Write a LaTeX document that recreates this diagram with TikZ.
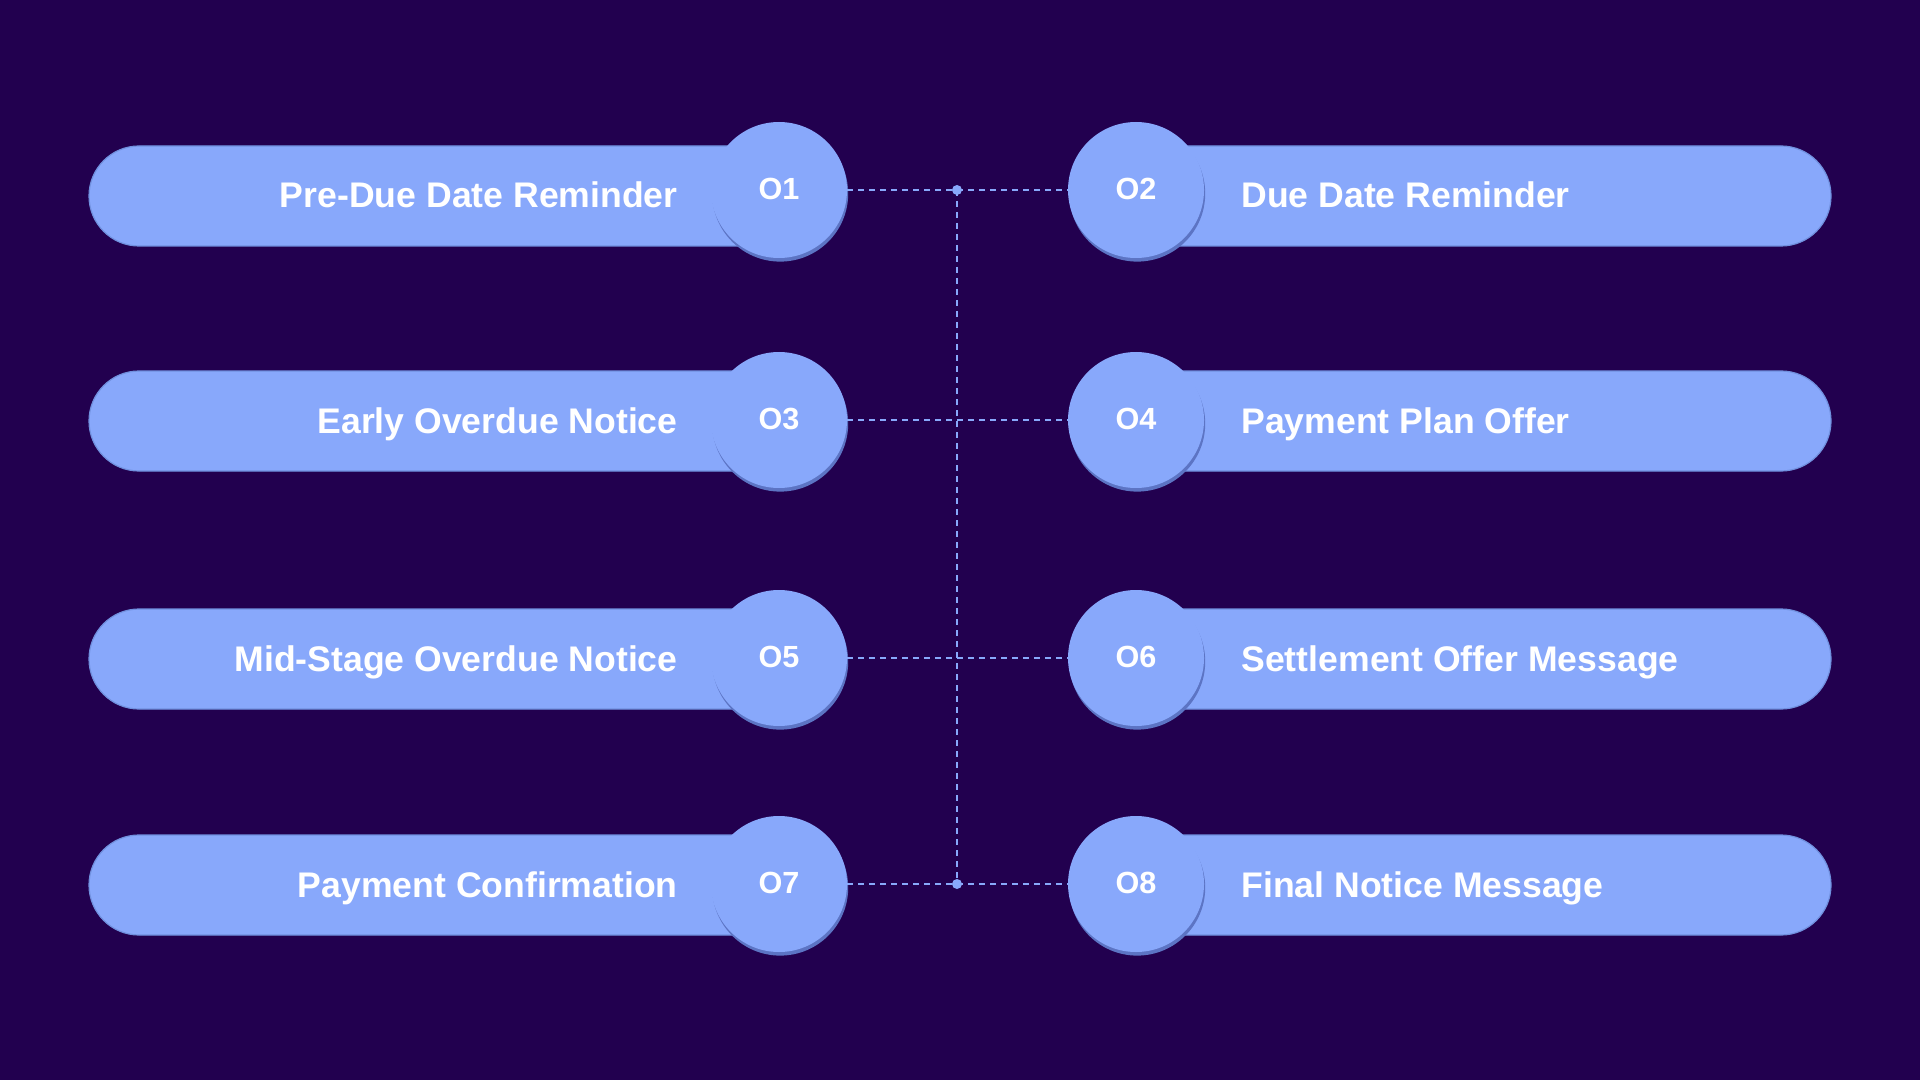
\documentclass[tikz,border=0pt]{standalone}
\usepackage{fontspec}
\setmainfont{Liberation Sans}
\usetikzlibrary{shapes.misc,shadows}
\definecolor{bgc}{HTML}{22004F}
\definecolor{pillc}{HTML}{88A8FB}
\definecolor{edgec}{HTML}{7090DE}
\definecolor{shadc}{HTML}{5C74C4}
\begin{document}
\begin{tikzpicture}[x=0.5pt,y=-0.5pt,
  pillL/.style={rounded rectangle, rounded rectangle right arc=none, fill=pillc, draw=edgec, line width=0.6pt, minimum height=50pt, inner sep=0pt},
  pillR/.style={rounded rectangle, rounded rectangle left arc=none, fill=pillc, draw=edgec, line width=0.6pt, minimum height=50pt, inner sep=0pt},
  numc/.style={circle, fill=pillc, minimum size=68pt, inner sep=0pt, text=white, font=\bfseries\fontsize{15.3}{15.3}\selectfont,
    drop shadow={shadow xshift=0.6pt, shadow yshift=-1.8pt, fill=shadc, opacity=1}},
  lblL/.style={anchor=base east, text=white, font=\bfseries\fontsize{17.8}{17.8}\selectfont, inner sep=0pt},
  lblR/.style={anchor=base west, text=white, font=\bfseries\fontsize{17.8}{17.8}\selectfont, inner sep=0pt},
  conn/.style={draw=pillc, line width=0.8pt, dash pattern=on 3pt off 2.5pt},
  dotc/.style={fill=pillc}]
\fill[bgc] (0,0) rectangle (1920,1080);
\useasboundingbox (0,0) rectangle (1920,1080);
% pills
\node[pillL, minimum width=345pt] (p1) at (434,196) {};
\node[pillR, minimum width=347.5pt] (p2) at (1483.5,196) {};
\node[pillL, minimum width=345pt] (p3) at (434,421) {};
\node[pillR, minimum width=347.5pt] (p4) at (1483.5,421) {};
\node[pillL, minimum width=345pt] (p5) at (434,659) {};
\node[pillR, minimum width=347.5pt] (p6) at (1483.5,659) {};
\node[pillL, minimum width=345pt] (p7) at (434,885) {};
\node[pillR, minimum width=347.5pt] (p8) at (1483.5,885) {};
% labels
\node[lblL] (t1) at (678,208) {Pre-Due Date Reminder};
\node[lblR] (t2) at (1241,208) {Due Date Reminder};
\node[lblL] (t3) at (678,433) {Early Overdue Notice};
\node[lblR] (t4) at (1241,433) {Payment Plan Offer};
\node[lblL] (t5) at (678,671) {Mid-Stage Overdue Notice};
\node[lblR] (t6) at (1241,671) {Settlement Offer Message};
\node[lblL] (t7) at (678,897) {Payment Confirmation};
\node[lblR] (t8) at (1241,897) {Final Notice Message};
% circles
\node[numc] (c1) at (779,190) {\raisebox{1.5pt}{O1}};
\node[numc] (c2) at (1136,190) {\raisebox{1.5pt}{O2}};
\node[numc] (c3) at (779,420) {\raisebox{1.5pt}{O3}};
\node[numc] (c4) at (1136,420) {\raisebox{1.5pt}{O4}};
\node[numc] (c5) at (779,658) {\raisebox{1.5pt}{O5}};
\node[numc] (c6) at (1136,658) {\raisebox{1.5pt}{O6}};
\node[numc] (c7) at (779,884) {\raisebox{1.5pt}{O7}};
\node[numc] (c8) at (1136,884) {\raisebox{1.5pt}{O8}};
% connectors
\coordinate (d1) at (957,190);
\coordinate (d4) at (957,884);
\draw[conn] (c1.east) -- (d1) -- (c2.west);
\draw[conn] (c3.east) -- (c4.west);
\draw[conn] (c5.east) -- (c6.west);
\draw[conn] (c7.east) -- (d4) -- (c8.west);
\draw[conn] (d1) -- (d4);
\fill[dotc] (d1) circle (2.5pt);
\fill[dotc] (d4) circle (2.5pt);
\end{tikzpicture}
\end{document}
